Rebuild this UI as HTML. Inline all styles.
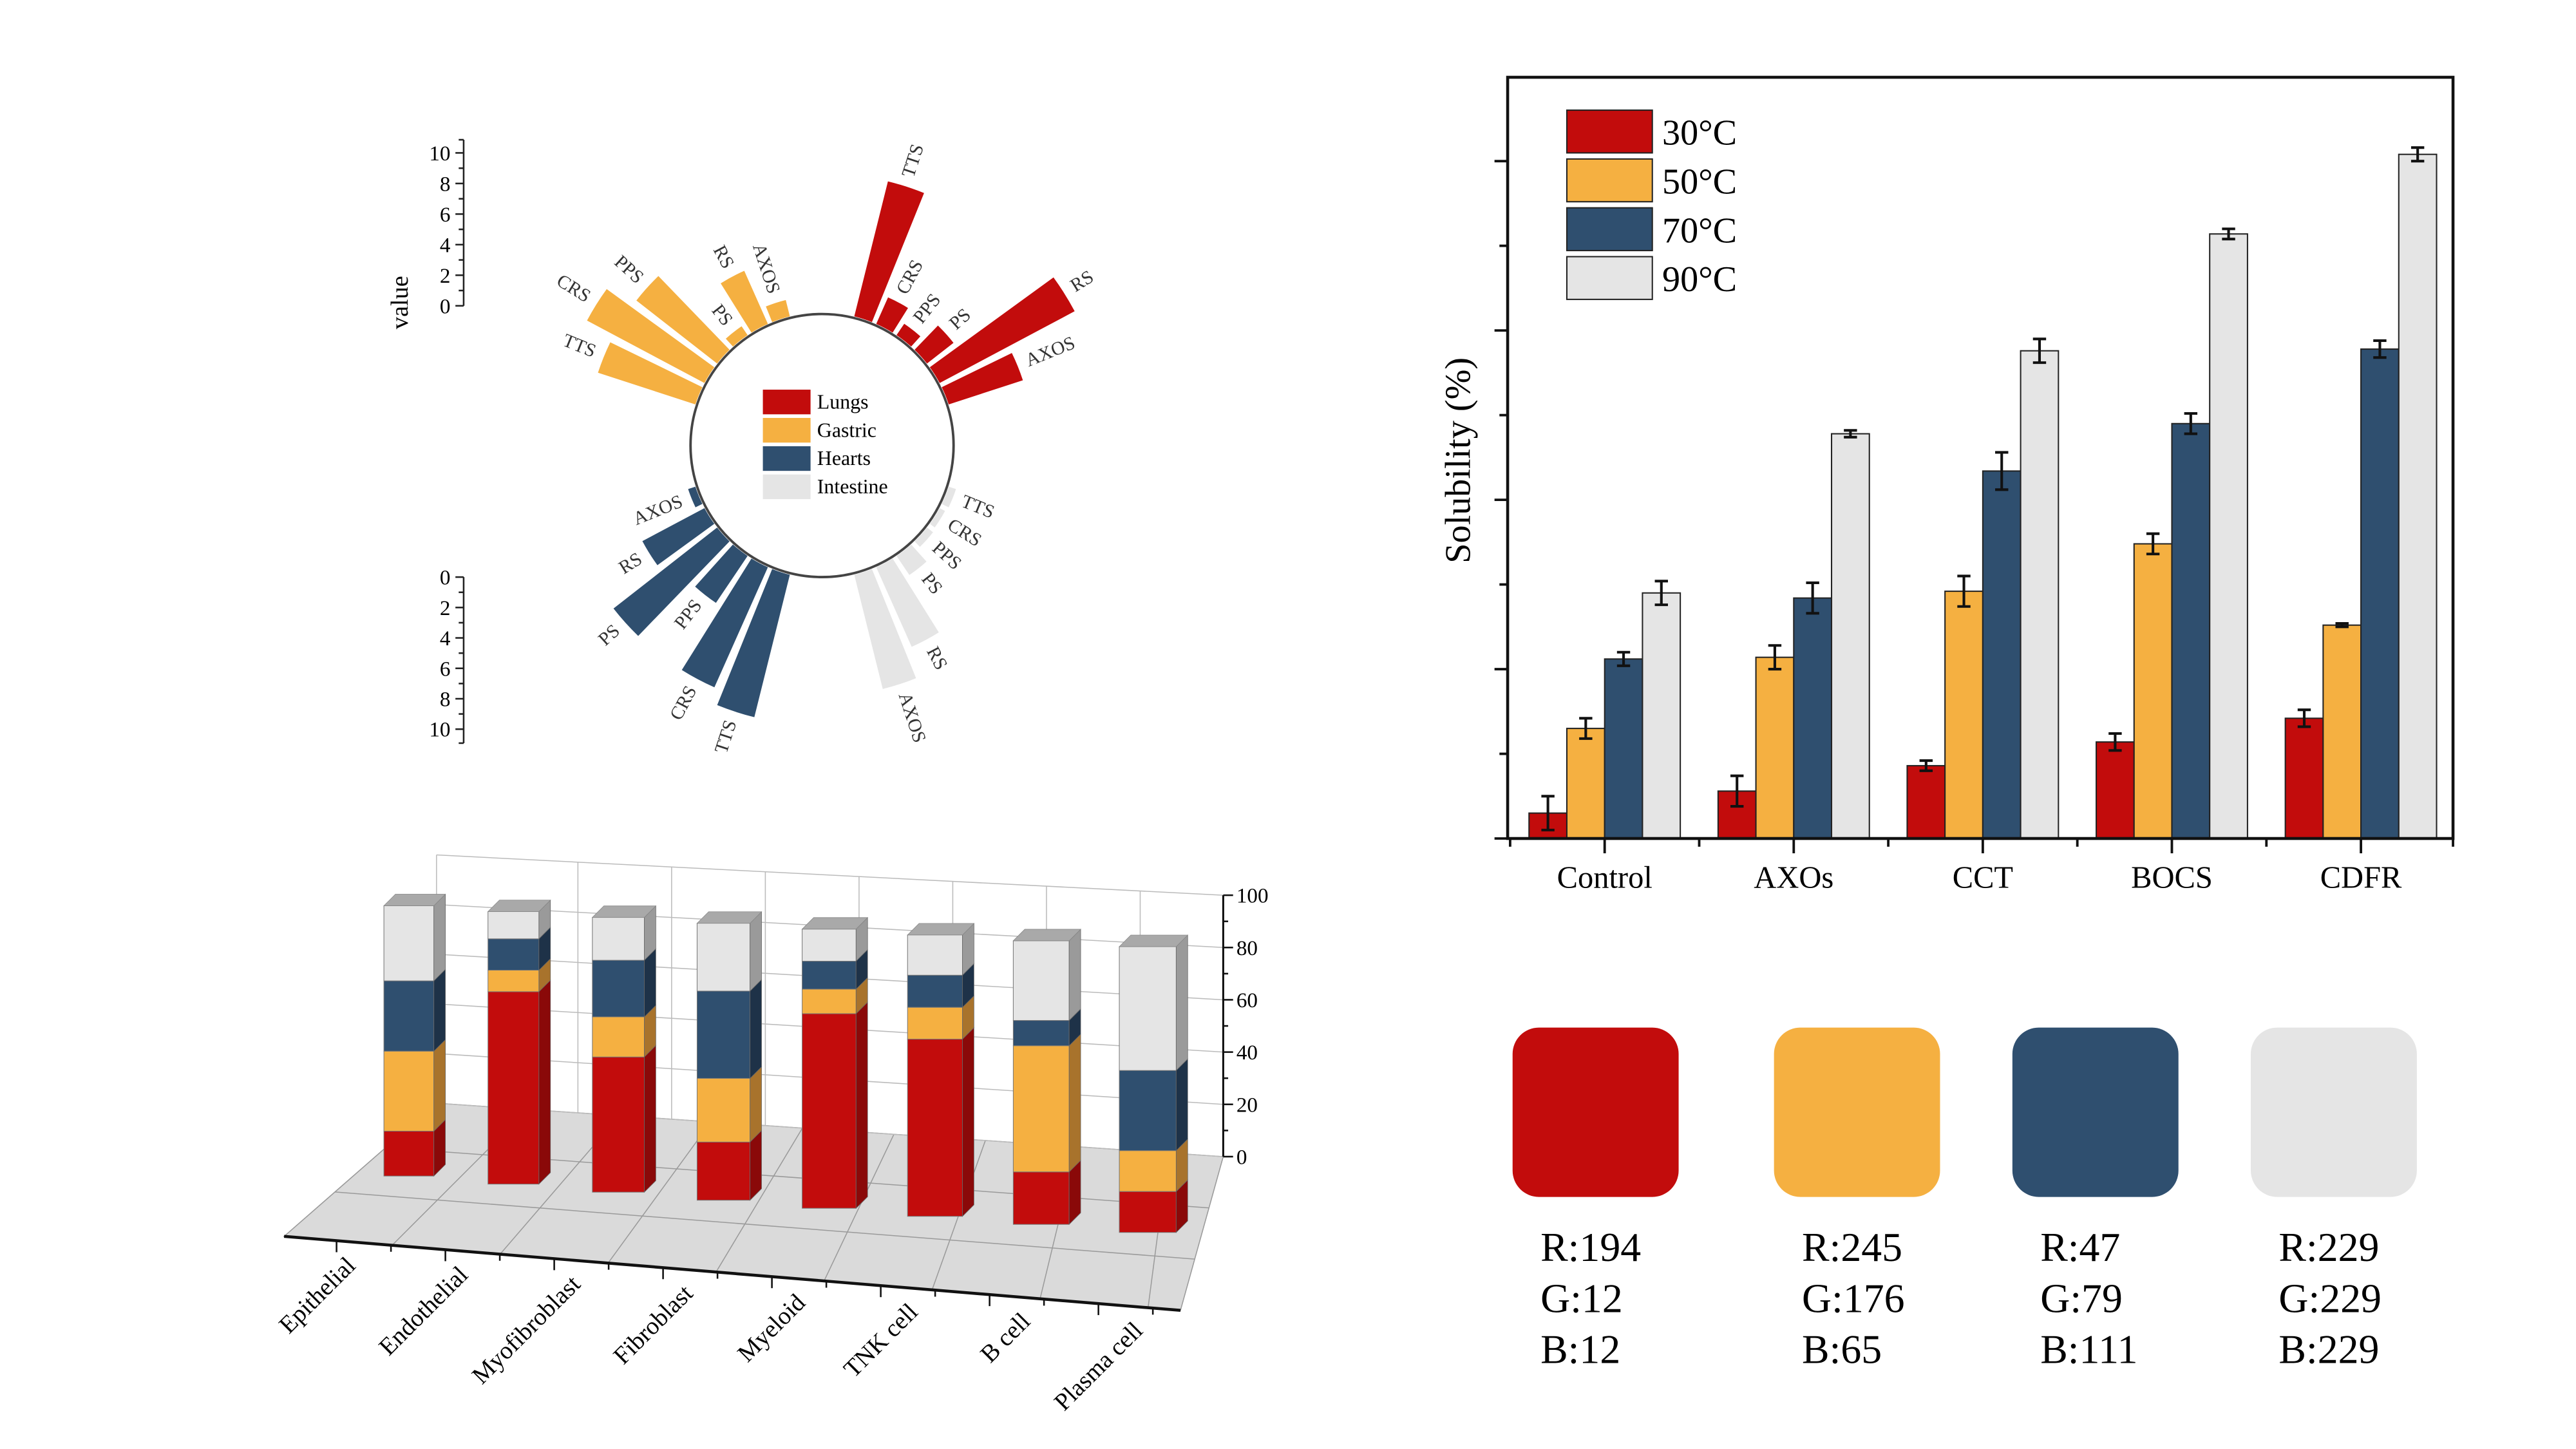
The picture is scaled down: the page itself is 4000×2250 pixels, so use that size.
<!DOCTYPE html>
<html><head><meta charset="utf-8">
<style>
html,body{margin:0;padding:0;background:#fff;width:4000px;height:2250px;overflow:hidden}
svg{display:block;font-family:"Liberation Serif",serif}
</style></head>
<body>
<svg id="root" width="4000" height="2250" viewBox="0 0 1548 870.75" xmlns="http://www.w3.org/2000/svg">
 <g transform="scale(0.988)">
  <g id="polar"></g>
  <g id="bar3d" transform="translate(2,7)"></g>
  <g id="barchart"></g>
  <g id="swatches"></g>
 </g>
</svg>
<script>
// ---------- shared ----------
const colors = ["#c20c0c", "#f5b041", "#2f4f6f", "#e5e5e5"];
const sideColors = ["#8a0909", "#a8732c", "#1e3248", "#9a9a9a"];
const NS = "http://www.w3.org/2000/svg";
function mk(parent, tag, attrs, text) {
  const e = document.createElementNS(NS, tag);
  for (const k in attrs) e.setAttribute(k, attrs[k]);
  if (text !== undefined) e.textContent = text;
  parent.appendChild(e);
  return e;
}

// ---------- bar chart data ----------
const barCategories = ["Control", "AXOs", "CCT", "BOCS", "CDFR"];
const barSeriesNames = ["30°C", "50°C", "70°C", "90°C"];
const val30 = [1.5, 2.8, 4.3, 5.7, 7.1];
const val50 = [6.5, 10.7, 14.6, 17.4, 12.6];
const val70 = [10.6, 14.2, 21.7, 24.5, 28.9];
const val90 = [14.5, 23.9, 28.8, 35.7, 40.4];
const err30 = [1.0, 0.9, 0.3, 0.5, 0.5];
const err50 = [0.6, 0.7, 0.9, 0.6, 0.1];
const err70 = [0.4, 0.9, 1.1, 0.6, 0.5];
const err90 = [0.7, 0.2, 0.7, 0.3, 0.4];

// ---------- polar data ----------
const polarGroups = ["Lungs", "Gastric", "Hearts", "Intestine"];
const polarLabels = ["TTS", "CRS", "PPS", "PS", "RS", "AXOS"];
const lungsVals = [9.1, 1.9, 0.9, 2.2, 10.0, 5.1];
const gastricVals = [6.7, 8.7, 6.7, 0.7, 3.8, 1.1];
const heartsVals = [9.6, 8.6, 3.7, 8.6, 4.6, 0.5];
const intestineVals = [0.5, 0.4, 0.5, 1.5, 5.7, 7.7];
const polarTicks = [0, 2, 4, 6, 8, 10];

// ---------- 3D stacked data ----------
const cellTypes = ["Epithelial", "Endothelial", "Myofibroblast", "Fibroblast", "Myeloid", "TNK cell", "B cell", "Plasma cell"];
const stackRed = [16.6, 70.6, 49.2, 21.0, 69.7, 62.9, 18.5, 14.3];
const stackOrange = [29.6, 7.9, 14.6, 23.0, 8.8, 11.3, 44.5, 14.3];
const stackBlue = [26.0, 11.5, 20.6, 31.5, 10.0, 11.4, 8.9, 28.0];
const stackGrey = [27.8, 10.0, 15.6, 24.5, 11.5, 14.3, 28.1, 43.3];
const zTicks = [0, 20, 40, 60, 80, 100];

// ---------- swatch data ----------
const rgbR = [194, 245, 47, 229];
const rgbG = [12, 176, 79, 229];
const rgbB = [12, 65, 111, 229];

// ================= BAR CHART =================
(function () {
  const g = document.getElementById("barchart");
  const L = 917, T = 47, R = 1492, B = 510;
  const y = v => B - v * 10.3;
  const groupW = 115, bw = 23;
  const cx = i => 976 + i * groupW;
  const vals = [val30, val50, val70, val90];
  const errs = [err30, err50, err70, err90];
  for (let s = 0; s < 4; s++) {
    for (let i = 0; i < barCategories.length; i++) {
      const x = cx(i) - 2 * bw + s * bw;
      const r = mk(g, "rect", { x: x, y: y(vals[s][i]), width: bw, height: B - y(vals[s][i]), fill: colors[s], stroke: "#222", "stroke-width": 0.8 });
      
      
      const mx = x + bw / 2, hi = y(vals[s][i] + errs[s][i]), lo = y(vals[s][i] - errs[s][i]);
      const eb = mk(g, "path", { d: `M${mx},${hi}V${lo}M${mx - 4},${hi}H${mx + 4}M${mx - 4},${lo}H${mx + 4}`, stroke: "#111", "stroke-width": 1.6, fill: "none" });
      
      
    }
  }
  const fr = mk(g, "rect", { x: L, y: T, width: R - L, height: B - T, fill: "none", stroke: "#111", "stroke-width": 1.8 });
  
  
  for (let v = 0; v <= 40; v += 5) {
    const len = v % 10 === 0 ? 8 : 5;
    mk(g, "line", { x1: L - len, x2: L, y1: y(v), y2: y(v), stroke: "#111", "stroke-width": 1.5 });
  }
  for (let i = 0; i < barCategories.length; i++) {
    mk(g, "line", { x1: cx(i), x2: cx(i), y1: B, y2: B + 9, stroke: "#111", "stroke-width": 1.5 });
    mk(g, "line", { x1: cx(i) - groupW / 2, x2: cx(i) - groupW / 2, y1: B, y2: B + 5, stroke: "#111", "stroke-width": 1.5 });
    const t = mk(g, "text", { x: cx(i), y: 540, "font-size": 19, "text-anchor": "middle" }, barCategories[i]);
    
    
  }
  mk(g, "line", { x1: R, x2: R, y1: B, y2: B + 5, stroke: "#111", "stroke-width": 1.5 });
  const yt = mk(g, "text", { x: 0, y: 0, "font-size": 22, "text-anchor": "middle", transform: "translate(894,280) rotate(-90)" }, "Solubility (%)");
  
  
  for (let s = 0; s < 4; s++) {
    const ly = 67 + s * 29.7;
    const lr = mk(g, "rect", { x: 953, y: ly, width: 52, height: 26, fill: colors[s], stroke: "#222", "stroke-width": 0.8 });
    
    
    const lt = mk(g, "text", { x: 1011, y: ly + 21, "font-size": 22 }, barSeriesNames[s]);
    
    
  }
})();

// ================= POLAR =================
(function () {
  const g = document.getElementById("polar");
  const cx = 500, cy = 271, r0 = 80, rb = 81, k = 9.3;
  const startAngles = [-72, -158, 108, 22];
  const sets = [lungsVals, gastricVals, heartsVals, intestineVals];
  const half = 4;
  const rad = a => a * Math.PI / 180;
  const pt = (r, a) => [cx + r * Math.cos(rad(a)), cy + r * Math.sin(rad(a))];
  for (let gi = 0; gi < 4; gi++) {
    for (let j = 0; j < 6; j++) {
      const a = startAngles[gi] + j * 10;
      const v = sets[gi][j];
      const ro = rb + v * k;
      const p1 = pt(rb, a - half), p2 = pt(ro, a - half), p3 = pt(ro, a + half), p4 = pt(rb, a + half);
      const w = mk(g, "path", { d: `M${p1}L${p2}A${ro},${ro} 0 0 1 ${p3}L${p4}A${rb},${rb} 0 0 0 ${p1}Z`, fill: colors[gi] });
      
      
      const lp = pt(ro + 6, a);
      const norm = ((a % 360) + 360) % 360;
      const right = norm < 90 || norm > 270;
      const rot = right ? a : a + 180;
      const t = mk(g, "text", { x: lp[0], y: lp[1], "font-size": 11.5, fill: "#333", "text-anchor": right ? "start" : "end", "dominant-baseline": "middle", transform: `rotate(${rot},${lp[0]},${lp[1]})` }, polarLabels[j]);
      
      
    }
  }
  const c = mk(g, "circle", { cx: cx, cy: cy, r: r0, fill: "none", stroke: "#444", "stroke-width": 1.5 });
  
  
  for (let i = 0; i < 4; i++) {
    const ly = 237 + i * 17.2;
    const lr = mk(g, "rect", { x: 464, y: ly, width: 29, height: 15, fill: colors[i] });
    
    
    const lt = mk(g, "text", { x: 497, y: ly + 11.5, "font-size": 12.5 }, polarGroups[i]);
    
    
  }
  const ax = 282;
  const upper = v => 186 - v * 9.3;
  const lower = v => 351 + v * 9.25;
  [[upper, 85, 186, 'upper'], [lower, 351, 452, 'lower']].forEach(([f, y1, y2, nm]) => {
    const l = mk(g, "line", { x1: ax, x2: ax, y1: y1, y2: y2, stroke: "#222", "stroke-width": 1 });
    
    
    for (let v = 0; v <= 10; v++) {
      mk(g, "line", { x1: ax - (v % 2 === 0 ? 5 : 3), x2: ax, y1: f(v), y2: f(v), stroke: "#222", "stroke-width": 1 });
    }
    mk(g, "line", { x1: ax - 3, x2: ax, y1: nm === 'upper' ? 85 : 452, y2: nm === 'upper' ? 85 : 452, stroke: "#222", "stroke-width": 1 });
    polarTicks.forEach(v => {
      const t = mk(g, "text", { x: ax - 8, y: f(v) + 4.5, "font-size": 13, "text-anchor": "end" }, v);
      
      
    });
  });
  const vt = mk(g, "text", { x: 0, y: 0, "font-size": 15, "text-anchor": "middle", transform: "translate(248,184) rotate(-90)" }, "value");
  
  
})();

// ================= 3D STACKED =================
(function () {
  const g = document.getElementById("bar3d");
  const wTL = [263.5, 513], wTR = [742, 537.5], wBL = [263.5, 664], wBR = [742, 696.5];
  const fFL = [170.8, 745], fFR = [716, 790];
  const floor = mk(g, "polygon", { points: `${wBL} ${wBR} ${fFR} ${fFL}`, fill: "#dadada", stroke: "#999", "stroke-width": 0.6 });
  
  
  const lerp = (a, b, t) => [a[0] + (b[0] - a[0]) * t, a[1] + (b[1] - a[1]) * t];
  for (let i = 1; i <= 8; i++) {
    const b = lerp(wBL, wBR, i / 8.6), f = lerp(fFL, fFR, i / 8.3);
    mk(g, "line", { x1: b[0], y1: b[1], x2: f[0], y2: f[1], stroke: "#9a9a9a", "stroke-width": 0.6 });
  }
  for (let k = 1; k <= 2; k++) {
    const a = lerp(wBL, fFL, k / 3), b = lerp(wBR, fFR, k / 3);
    mk(g, "line", { x1: a[0], y1: a[1], x2: b[0], y2: b[1], stroke: "#9a9a9a", "stroke-width": 0.6 });
  }
  zTicks.forEach(v => {
    const a = lerp(wBL, wTL, v / 100), b = lerp(wBR, wTR, v / 100);
    mk(g, "line", { x1: a[0], y1: a[1], x2: b[0], y2: b[1], stroke: "#bbb", "stroke-width": 0.6 });
  });
  for (let i = 0; i <= 8; i++) {
    const t = i === 0 ? 0 : (i * 57 + 29) / 478.5;
    const a = lerp(wBL, wBR, Math.min(t, 1)), b = lerp(wTL, wTR, Math.min(t, 1));
    mk(g, "line", { x1: a[0], y1: a[1], x2: b[0], y2: b[1], stroke: "#bbb", "stroke-width": 0.6 });
  }
  const axl = mk(g, "line", { x1: wBR[0], y1: wBR[1], x2: wTR[0], y2: wTR[1], stroke: "#111", "stroke-width": 1.2 });
  
  
  const zy = v => wBR[1] + (wTR[1] - wBR[1]) * v / 100;
  for (let v = 0; v <= 100; v += 10) {
    mk(g, "line", { x1: wBR[0], x2: wBR[0] + (v % 20 === 0 ? 6 : 3), y1: zy(v), y2: zy(v), stroke: "#111", "stroke-width": 1 });
  }
  zTicks.forEach(v => {
    const t = mk(g, "text", { x: 750, y: zy(v) + 4.5, "font-size": 13 }, v);
    
    
  });
  const stacks = [stackRed, stackOrange, stackBlue, stackGrey];
  const dx = 7, dy = -7;
  for (let i = 0; i < cellTypes.length; i++) {
    const x0 = 231.5 + i * 63.2 + i * i * 0.1;
    const w = 30.4 + i * 0.6;
    const bottom = 708.3 + i * 4.9;
    const H = 164.4 + i * 1.35;
    const total = stacks.reduce((s, a) => s + a[i], 0);
    let acc = 0;
    const bg = mk(g, "g", {});
    
    
    for (let s = 0; s < 4; s++) {
      const yb = bottom - H * acc / total;
      acc += stacks[s][i];
      const yt = bottom - H * acc / total;
      const seg = mk(bg, "rect", { x: x0, y: yt, width: w, height: yb - yt, fill: colors[s], stroke: "#777", "stroke-width": 0.4 });
      
      
      mk(bg, "polygon", { points: `${x0 + w},${yb} ${x0 + w + dx},${yb + dy} ${x0 + w + dx},${yt + dy} ${x0 + w},${yt}`, fill: sideColors[s], stroke: "#666", "stroke-width": 0.3 });
    }
    const top = bottom - H;
    mk(bg, "polygon", { points: `${x0},${top} ${x0 + dx},${top + dy} ${x0 + w + dx},${top + dy} ${x0 + w},${top}`, fill: "#a9a9a9", stroke: "#888", "stroke-width": 0.3 });
  }
  const fe = mk(g, "line", { x1: fFL[0], y1: fFL[1], x2: fFR[0], y2: fFR[1], stroke: "#111", "stroke-width": 1.8 });
  
  
  const edgeY = x => fFL[1] + (x - fFL[0]) * (fFR[1] - fFL[1]) / (fFR[0] - fFL[0]);
  for (let k = 0; k < 16; k++) {
    const x = 202.7 + k * 33.1;
    if (x > fFR[0]) break;
    mk(g, "line", { x1: x, x2: x, y1: edgeY(x), y2: edgeY(x) + (k % 2 === 0 ? 7 : 4), stroke: "#111", "stroke-width": 1 });
  }
  for (let i = 0; i < cellTypes.length; i++) {
    const x = 215 + i * 68.4;
    const yy = edgeY(x) + 15;
    const t = mk(g, "text", { x: x, y: yy, "font-size": 15, "text-anchor": "end", transform: `rotate(-45,${x},${yy})` }, cellTypes[i]);
    
    
  }
})();

// ================= SWATCHES =================
(function () {
  const g = document.getElementById("swatches");
  const xs = [920, 1079, 1224, 1369];
  for (let i = 0; i < 4; i++) {
    const r = mk(g, "rect", { x: xs[i], y: 625, width: 101, height: 103, rx: 16, ry: 16, fill: colors[i] });
    
    
    const lines = ["R:" + rgbR[i], "G:" + rgbG[i], "B:" + rgbB[i]];
    lines.forEach((s, j) => {
      const t = mk(g, "text", { x: xs[i] + 17, y: 767 + j * 31, "font-size": 25 }, s);
      
      
    });
  }
})();
</script>
</body></html>
